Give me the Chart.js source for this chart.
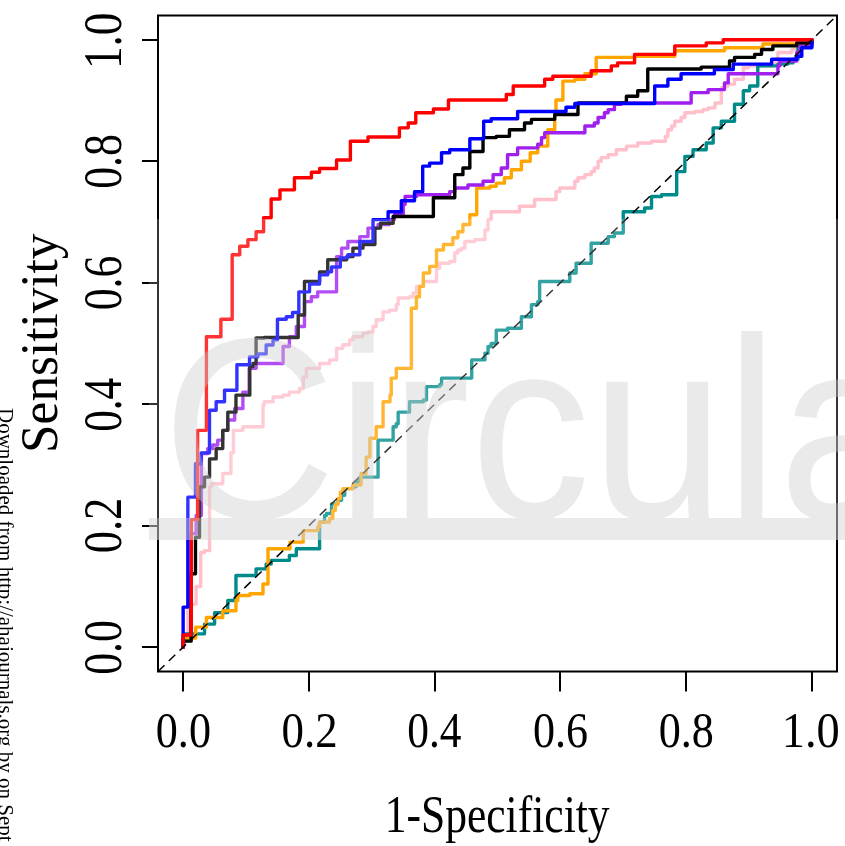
<!DOCTYPE html>
<html>
<head>
<meta charset="utf-8">
<title>ROC curves</title>
<script src="https://cdn.jsdelivr.net/npm/chart.js@4"></script>
<style>
  html, body { margin: 0; padding: 0; background: #fff; }
  #wrap { position: relative; width: 845px; height: 846px; }
</style>
</head>
<body>
<div id="wrap"><canvas id="roc"></canvas></div>
<script>
// axis ticks
const xTicks = [0, 0.2, 0.4, 0.6, 0.8, 1.0];
const yTicks = [0, 0.2, 0.4, 0.6, 0.8, 1.0];
const tickLabels = ['0.0', '0.2', '0.4', '0.6', '0.8', '1.0'];

// ROC step corners: 1-specificity and sensitivity for each model
const redFpr = [0, 0.013, 0.023, 0.037, 0.06, 0.078, 0.09, 0.103, 0.116, 0.128, 0.14, 0.154, 0.177, 0.204, 0.217, 0.244, 0.266, 0.294, 0.344, 0.358, 0.37, 0.398, 0.422, 0.514, 0.525, 0.575, 0.588, 0.649, 0.681, 0.691, 0.718, 0.782, 0.832, 0.859, 1];
const redTpr = [0, 0.02, 0.21, 0.357, 0.511, 0.54, 0.646, 0.66, 0.671, 0.684, 0.707, 0.738, 0.753, 0.773, 0.782, 0.788, 0.802, 0.833, 0.84, 0.855, 0.863, 0.88, 0.886, 0.901, 0.91, 0.924, 0.935, 0.94, 0.949, 0.957, 0.962, 0.976, 0.99, 0.995, 1];

const blueFpr = [0, 0.0075, 0.0196, 0.0287, 0.0419, 0.0525, 0.0658, 0.0855, 0.1056, 0.119, 0.132, 0.143, 0.15, 0.164, 0.174, 0.184, 0.201, 0.217, 0.23, 0.236, 0.25, 0.262, 0.281, 0.302, 0.326, 0.347, 0.368, 0.381, 0.392, 0.411, 0.424, 0.456, 0.478, 0.49, 0.532, 0.609, 0.623, 0.75, 0.771, 0.792, 0.845, 0.875, 0.936, 0.976, 0.984, 1, 1];
const blueTpr = [0, 0.066, 0.247, 0.302, 0.32, 0.39, 0.404, 0.423, 0.465, 0.478, 0.483, 0.4975, 0.506, 0.54, 0.544, 0.551, 0.585, 0.598, 0.613, 0.618, 0.626, 0.641, 0.646, 0.668, 0.704, 0.717, 0.735, 0.75, 0.792, 0.797, 0.814, 0.819, 0.837, 0.866, 0.87, 0.882, 0.889, 0.895, 0.924, 0.935, 0.944, 0.951, 0.96, 0.968, 0.973, 0.987, 1];

const blackFpr = [0, 0.0127, 0.0196, 0.026, 0.034, 0.042, 0.0525, 0.063, 0.071, 0.084, 0.106, 0.111, 0.116, 0.129, 0.183, 0.193, 0.217, 0.23, 0.26, 0.27, 0.286, 0.305, 0.314, 0.334, 0.398, 0.432, 0.445, 0.456, 0.477, 0.498, 0.519, 0.543, 0.554, 0.591, 0.628, 0.705, 0.723, 0.739, 0.824, 0.869, 0.877, 0.909, 0.92, 0.938, 0.976, 1, 1];
const blackTpr = [0, 0.01, 0.121, 0.181, 0.264, 0.28, 0.31, 0.327, 0.357, 0.387, 0.415, 0.462, 0.467, 0.509, 0.51, 0.547, 0.602, 0.618, 0.638, 0.643, 0.657, 0.663, 0.69, 0.698, 0.709, 0.74, 0.778, 0.789, 0.816, 0.839, 0.841, 0.852, 0.863, 0.869, 0.877, 0.896, 0.907, 0.916, 0.952, 0.955, 0.965, 0.971, 0.976, 0.984, 0.99, 0.995, 1];

const purpleFpr = [0, 0.0127, 0.0207, 0.029, 0.039, 0.047, 0.055, 0.063, 0.071, 0.082, 0.095, 0.105, 0.116, 0.159, 0.169, 0.18, 0.193, 0.204, 0.214, 0.244, 0.252, 0.262, 0.281, 0.294, 0.31, 0.328, 0.336, 0.35, 0.353, 0.371, 0.424, 0.432, 0.453, 0.477, 0.493, 0.506, 0.516, 0.532, 0.564, 0.57, 0.575, 0.639, 0.654, 0.66, 0.67, 0.676, 0.686, 0.697, 0.808, 0.835, 0.861, 0.867, 0.946, 0.949, 0.976, 0.981, 1, 1];
const purpleTpr = [0, 0.02, 0.187, 0.217, 0.319, 0.327, 0.333, 0.341, 0.357, 0.374, 0.393, 0.42, 0.459, 0.467, 0.495, 0.511, 0.528, 0.569, 0.577, 0.585, 0.643, 0.657, 0.668, 0.676, 0.69, 0.696, 0.704, 0.712, 0.729, 0.742, 0.745, 0.75, 0.756, 0.761, 0.767, 0.778, 0.789, 0.811, 0.822, 0.828, 0.839, 0.847, 0.858, 0.863, 0.872, 0.88, 0.885, 0.894, 0.896, 0.913, 0.918, 0.929, 0.944, 0.957, 0.965, 0.979, 0.99, 1];

const orangeFpr = [0, 0.02, 0.037, 0.063, 0.084, 0.087, 0.106, 0.127, 0.135, 0.17, 0.191, 0.214, 0.217, 0.233, 0.238, 0.242, 0.246, 0.25, 0.254, 0.27, 0.283, 0.291, 0.297, 0.307, 0.318, 0.329, 0.331, 0.339, 0.363, 0.371, 0.376, 0.382, 0.392, 0.403, 0.414, 0.429, 0.437, 0.445, 0.456, 0.467, 0.488, 0.498, 0.511, 0.522, 0.538, 0.552, 0.564, 0.58, 0.591, 0.593, 0.604, 0.623, 0.639, 0.657, 0.718, 0.782, 0.861, 0.922, 1, 1];
const orangeTpr = [0, 0.015, 0.033, 0.049, 0.06, 0.077, 0.085, 0.088, 0.104, 0.162, 0.173, 0.192, 0.198, 0.206, 0.212, 0.225, 0.235, 0.245, 0.255, 0.261, 0.267, 0.286, 0.313, 0.344, 0.363, 0.404, 0.415, 0.443, 0.459, 0.558, 0.577, 0.594, 0.616, 0.627, 0.654, 0.663, 0.674, 0.684, 0.696, 0.712, 0.756, 0.759, 0.764, 0.773, 0.786, 0.8, 0.814, 0.825, 0.852, 0.877, 0.901, 0.932, 0.935, 0.944, 0.971, 0.973, 0.982, 0.987, 0.993, 1];

const pinkFpr = [0, 0.0075, 0.0207, 0.028, 0.034, 0.042, 0.0446, 0.063, 0.076, 0.08, 0.095, 0.127, 0.129, 0.143, 0.159, 0.169, 0.185, 0.191, 0.196, 0.217, 0.233, 0.244, 0.254, 0.265, 0.27, 0.286, 0.294, 0.302, 0.307, 0.318, 0.328, 0.339, 0.342, 0.36, 0.366, 0.371, 0.382, 0.403, 0.408, 0.424, 0.432, 0.437, 0.443, 0.448, 0.464, 0.48, 0.485, 0.49, 0.535, 0.559, 0.593, 0.599, 0.623, 0.628, 0.639, 0.649, 0.654, 0.66, 0.665, 0.676, 0.689, 0.705, 0.723, 0.745, 0.767, 0.771, 0.777, 0.782, 0.792, 0.798, 0.814, 0.827, 0.835, 0.846, 0.856, 0.861, 0.867, 0.877, 0.891, 0.899, 0.936, 0.946, 0.968, 0.981, 1, 1];
const pinkTpr = [0, 0.011, 0.071, 0.1, 0.156, 0.159, 0.264, 0.269, 0.286, 0.32, 0.357, 0.363, 0.399, 0.404, 0.412, 0.415, 0.42, 0.426, 0.445, 0.459, 0.467, 0.473, 0.492, 0.498, 0.506, 0.511, 0.517, 0.519, 0.528, 0.539, 0.552, 0.555, 0.564, 0.575, 0.577, 0.583, 0.594, 0.602, 0.624, 0.632, 0.635, 0.649, 0.654, 0.657, 0.668, 0.671, 0.687, 0.704, 0.717, 0.726, 0.737, 0.75, 0.756, 0.767, 0.773, 0.778, 0.783, 0.789, 0.8, 0.806, 0.811, 0.819, 0.825, 0.83, 0.833, 0.841, 0.852, 0.858, 0.866, 0.872, 0.88, 0.882, 0.885, 0.888, 0.896, 0.921, 0.924, 0.927, 0.935, 0.954, 0.957, 0.962, 0.979, 0.984, 0.993, 1];

const tealFpr = [0, 0.002, 0.034, 0.05, 0.071, 0.084, 0.116, 0.132, 0.14, 0.169, 0.18, 0.217, 0.225, 0.228, 0.236, 0.246, 0.252, 0.257, 0.27, 0.275, 0.281, 0.31, 0.334, 0.339, 0.342, 0.36, 0.382, 0.387, 0.408, 0.411, 0.459, 0.48, 0.485, 0.49, 0.498, 0.516, 0.538, 0.554, 0.564, 0.567, 0.615, 0.625, 0.649, 0.676, 0.686, 0.7, 0.734, 0.745, 0.761, 0.785, 0.798, 0.811, 0.832, 0.843, 0.856, 0.877, 0.891, 0.901, 0.914, 0.946, 0.962, 0.97, 0.978, 1, 1];
const tealTpr = [0, 0.008, 0.022, 0.038, 0.057, 0.077, 0.118, 0.129, 0.137, 0.143, 0.151, 0.162, 0.206, 0.217, 0.22, 0.236, 0.242, 0.25, 0.261, 0.264, 0.272, 0.28, 0.341, 0.363, 0.368, 0.387, 0.404, 0.407, 0.429, 0.432, 0.443, 0.473, 0.484, 0.495, 0.5, 0.522, 0.525, 0.544, 0.564, 0.569, 0.602, 0.616, 0.632, 0.665, 0.676, 0.682, 0.717, 0.723, 0.742, 0.745, 0.783, 0.808, 0.819, 0.83, 0.855, 0.866, 0.894, 0.916, 0.924, 0.957, 0.96, 0.962, 0.968, 0.99, 1];

function curve(fpr, tpr, color, order) {
  return {
    data: fpr.map((x, i) => ({ x: x, y: tpr[i] })),
    borderColor: color,
    borderWidth: 3.4,
    stepped: 'after',
    pointRadius: 0,
    fill: false,
    borderJoinStyle: 'round',
    borderCapStyle: 'round',
    order: order
  };
}

// text drawn with a fixed ink width (the labels are set narrow)
function drawLabel(ctx, text, x, y, angle, size, inkWidth, align) {
  ctx.save();
  ctx.translate(x, y);
  ctx.rotate(angle);
  ctx.font = size + 'px "Liberation Serif"';
  ctx.textAlign = 'left';
  ctx.textBaseline = 'alphabetic';
  const m = ctx.measureText(text);
  const ink = m.actualBoundingBoxLeft + m.actualBoundingBoxRight;
  ctx.scale(inkWidth ? inkWidth / ink : 1, 1);
  ctx.fillStyle = '#000';
  const left = align === 'start' ? m.actualBoundingBoxLeft : m.actualBoundingBoxLeft - ink / 2;
  ctx.fillText(text, left, 0);
  ctx.restore();
}

const framePlugin = {
  id: 'frame',
  afterDatasetsDraw(chart) {
    const { ctx, chartArea: a } = chart;
    ctx.save();
    ctx.strokeStyle = '#000';
    ctx.lineWidth = 2;
    ctx.strokeRect(a.left, a.top, a.right - a.left, a.bottom - a.top);
    ctx.restore();
  },
  afterDraw(chart) {
    const ctx = chart.ctx;
    const xs = chart.scales.x, ys = chart.scales.y;
    const a = chart.chartArea;

    xTicks.forEach((v, i) => drawLabel(ctx, tickLabels[i], xs.getPixelForValue(v), 747, 0, 51, 53));
    yTicks.forEach((v, i) => drawLabel(ctx, tickLabels[i], 120.5, ys.getPixelForValue(v), -Math.PI / 2, 55, 52));

    drawLabel(ctx, '1-Specificity', (a.left + a.right) / 2 + 1.5, 831.5, 0, 53, 222);
    drawLabel(ctx, 'Sensitivity', 57, 341.5, -Math.PI / 2, 53, 217);

    // faded journal watermark across the middle of the plot
    const w = chart.width, h = chart.height;
    ctx.save();
    ctx.fillStyle = 'rgba(255,255,255,0.2)';
    ctx.fillRect(149, 219, w - 149, 321);
    const off = document.createElement('canvas');
    off.width = w;
    off.height = h;
    const o = off.getContext('2d');
    o.fillStyle = '#cdcdcd';
    o.fillRect(149, 518, w - 149, 22);
    o.save();
    o.translate(162, 518);
    o.scale(0.935, 1);
    o.font = '258px "Liberation Sans"';
    o.textBaseline = 'alphabetic';
    o.fillText('Circula', 0, 0);
    o.restore();
    ctx.globalAlpha = 0.4;
    ctx.drawImage(off, 0, 0);
    ctx.restore();

    // download note along the left edge
    drawLabel(ctx, 'Downloaded from http://ahajournals.org by on Sept', -1, 408, Math.PI / 2, 21, 0, 'start');
  }
};

new Chart(document.getElementById('roc'), {
  type: 'line',
  data: {
    datasets: [
      {
        data: [{ x: -0.04, y: -0.04 }, { x: 1.04, y: 1.04 }],
        borderColor: '#000',
        borderWidth: 1.5,
        borderDash: [9, 6],
        pointRadius: 0,
        fill: false,
        order: 0
      },
      curve(redFpr, redTpr, '#ff0000', 1),
      curve(blueFpr, blueTpr, '#0000ff', 2),
      curve(blackFpr, blackTpr, '#000000', 3),
      curve(purpleFpr, purpleTpr, '#a020f0', 4),
      curve(orangeFpr, orangeTpr, '#ffa500', 5),
      curve(tealFpr, tealTpr, '#008b8b', 6),
      curve(pinkFpr, pinkTpr, '#ffc0cb', 7)
    ]
  },
  options: {
    responsive: true,
    maintainAspectRatio: false,
    animation: false,
    events: [],
    layout: { padding: { left: 142, right: 8, top: 15.5, bottom: 154.5 } },
    plugins: { legend: { display: false }, tooltip: { enabled: false } },
    scales: {
      x: {
        type: 'linear',
        min: -0.04,
        max: 1.04,
        afterBuildTicks: s => { s.ticks = xTicks.map(v => ({ value: v })); },
        ticks: { display: false },
        grid: { drawOnChartArea: false, drawTicks: true, tickLength: 20, color: '#000', lineWidth: 2 },
        border: { display: false }
      },
      y: {
        type: 'linear',
        min: -0.04,
        max: 1.04,
        afterBuildTicks: s => { s.ticks = yTicks.map(v => ({ value: v })); },
        ticks: { display: false },
        grid: { drawOnChartArea: false, drawTicks: true, tickLength: 16, color: '#000', lineWidth: 2 },
        border: { display: false }
      }
    }
  },
  plugins: [framePlugin]
});
</script>
</body>
</html>
